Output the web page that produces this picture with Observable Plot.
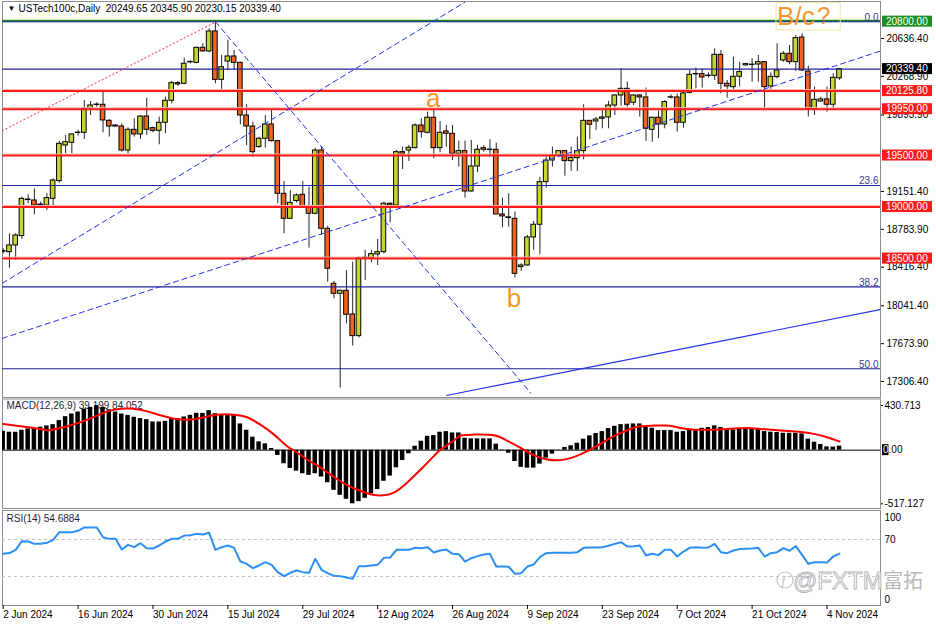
<!DOCTYPE html>
<html><head><meta charset="utf-8">
<script src="https://cdn.jsdelivr.net/npm/d3@7"></script>
<script src="https://cdn.jsdelivr.net/npm/@observablehq/plot@0.6"></script>
<style>
body{margin:0;background:#fff;}
#wrap{position:relative;width:936px;height:624px;overflow:hidden;background:#fff;font-family:"Liberation Sans",Arial,sans-serif;}
#wrap svg{position:absolute;left:0;}
#wm{position:absolute;left:776px;top:564px;font-family:"Liberation Sans",Arial,sans-serif;font-size:24px;white-space:nowrap;}
</style></head><body><div id="wrap"></div>
<script>
// ---------- DATA ----------
const title = "USTech100c,Daily\u00a0\u00a020249.65 20345.90 20230.15 20339.40";
const open = [18566,18562,18627,18718,19068,19064,19020,19015,19080,19252,
19598,19624,19719,19721,19960,19991,19993,19837,19792,19782,
19549,19750,19705,19879,19766,19740,19818,20032,20203,20197,
20405,20400,20546,20511,20705,20235,20413,20462,20400,19889,
19782,19582,19663,19802,19640,19129,18886,19058,19119,19006,
18935,19549,18789,18255,18158,18187,17957,17747,18506,18504,
18540,18562,19032,19015,19533,19549,19572,19792,19721,19867,
19572,19734,19711,19517,19543,19151,19394,19572,19555,19556,
18928,18900,18886,18417,18433,18705,18828,19242,19452,19501,
19543,19446,19475,19543,19837,19831,19857,19870,19986,20083,
20148,20012,20083,20064,19750,19867,19802,20062,20064,19818,
20109,20288,20290,20272,20274,20478,20197,20164,20265,20375,
20380,20384,20407,20171,20261,20423,20488,20407,20646,20316,
19947,20025,20045,19993,20249.65];
const high = [18595,18740,18740,19096,19119,19177,19048,19129,19274,19637,
19695,19711,19744,20035,20025,20012,20132,19850,19798,19808,
19769,19857,19889,20057,19776,19873,20067,20219,20219,20446,
20420,20553,20585,20731,20795,20472,20617,20520,20407,19993,
19824,19679,19889,19938,19646,19248,19161,19129,19248,19193,
19572,19582,18815,18278,18190,18384,18465,18514,18579,18579,
18685,19048,19041,19549,19582,19598,19808,19857,19922,19947,
19831,19792,19792,19640,19640,19646,19598,19598,19653,19621,
19087,19129,18951,18449,18724,18860,19290,19485,19582,19549,
19549,19582,19679,19993,19841,19870,19947,20025,20090,20342,
20213,20090,20093,20155,19870,19931,20032,20090,20096,20116,
20326,20349,20342,20303,20536,20520,20229,20455,20407,20394,
20439,20472,20410,20303,20585,20510,20569,20666,20682,20368,
20164,20067,20164,20294,20345.9];
const low = [18546,18407,18482,18685,19032,18925,18999,18967,18990,19232,
19517,19517,19689,19656,19889,19970,19721,19679,19776,19533,
19517,19679,19656,19695,19721,19604,19711,20002,20174,20187,
20391,20391,20504,20498,20197,20142,20326,20326,19799,19598,
19485,19572,19572,19630,19032,18740,18880,19041,18990,18601,
18925,18724,18271,18109,17242,17867,17650,17728,18287,18459,
18433,18546,18847,19009,19365,19443,19566,19669,19711,19469,
19527,19582,19452,19388,19087,19145,19333,19533,19485,18925,
18799,18805,18310,18375,18427,18579,18537,19184,19388,19494,
19300,19346,19346,19459,19656,19744,19760,19760,19889,19980,
19970,19986,19873,19637,19630,19663,19760,20051,19727,19766,
20100,20148,20155,20252,20229,20100,20057,20142,20168,20368,
20213,20213,19954,20142,20245,20407,20381,20316,20316,19873,
19889,20019,19922,19954,20230.15];
const close = [18572,18627,18724,19080,19073,19015,19024,19087,19258,19614,
19630,19705,19723,19954,19986,19995,19841,19782,19782,19549,
19750,19705,19879,19750,19740,19818,20032,20203,20190,20391,
20409,20546,20511,20705,20235,20358,20462,20400,19889,19782,
19533,19663,19802,19640,19129,18886,19041,19113,19006,18935,
19549,18789,18401,18158,18187,17954,17747,18504,18509,18543,
18562,19032,19015,19533,19517,19575,19792,19727,19867,19572,
19721,19711,19517,19543,19151,19394,19556,19556,19558,18928,
18909,18894,18352,18433,18705,18828,19242,19452,19501,19543,
19446,19475,19543,19837,19799,19850,19870,19986,20083,20148,
19993,20083,20064,19760,19867,19802,20019,20066,19818,20103,
20284,20292,20258,20276,20478,20197,20171,20265,20310,20388,
20383,20407,20164,20265,20326,20488,20407,20640,20326,19947,
20041,20045,19993,20255,20339.4];

const macdHist = [182,173,173,192,205,205,221,234,246,285,
323,349,368,397,413,430,413,390,368,349,
336,317,304,294,272,272,278,304,304,320,
336,355,355,381,352,342,342,333,253,192,
125,80,61,16,-51,-131,-176,-202,-227,-243,
-227,-259,-314,-387,-435,-474,-517,-496,-464,-420,
-380,-300,-250,-170,-100,-35,38,86,134,141,
173,179,166,166,115,109,109,109,109,58,
-5,-29,-109,-166,-173,-173,-134,-77,-38,3,
26,42,67,106,138,160,179,208,230,246,
250,253,253,227,211,189,189,189,173,179,
195,195,211,218,234,218,202,195,202,205,
202,202,179,173,170,163,163,163,157,106,
77,55,32,30,39.199];
const signalIdx = [0,4.9,6.5,7.6,10.3,13.5,16.7,18.8,20.9,23.1,25.2,27.4,29.5,31.6,34.3,37,39.1,41.2,43.4,45.5,46.6,48.7,50.9,53,55.1,57.3,59.4,61,62.6,64.7,66.9,69,70.1,72.2,
73.3,75.4,78.6,80.7,82.9,85,87.2,89.3,91.4,93.6,95.7,97.8,100,102.1,104.3,106.4,108.5,110.7,113.9,117.1,119.2,121.3,124.6,127.8,129.9,132,134];
const signalVal = [253,214,198,195,230,294,374,400,400,374,336,304,294,310,342,342,317,246,150,38,-3,-90,-170,-259,-336,-394,-432,-435,-410,-314,-186,-58,6,93,
141,150,144,93,22,-48,-90,-96,-67,-10,61,134,192,230,237,237,214,198,198,208,214,205,189,176,157,125,84.052];
const rsi = [54.5,55.3,58.8,68.2,67.8,65.3,65.3,66.4,69.6,77.9,
77.9,77.9,79.4,83,83,83,72.5,70.7,70.7,59.2,
64.2,61.7,66,60.6,60.3,63.5,67.8,70.7,70.7,74.3,
74.7,76.1,75.4,77.2,58.8,61.7,63.5,61,46.2,43.7,
39,41.9,45.5,42.6,34.7,30.4,34,36.5,34.7,34,
49.1,37.2,33.6,30.7,30.4,28.9,27.5,41.2,41.2,41.9,
42.6,50.2,50.5,58.8,58.8,58.8,61,60.6,61.7,55.9,
58.1,59.2,54.5,54.1,46.2,49.8,52,53.8,54.5,40.8,
40.8,40.5,32.9,33.6,40.8,43,50.9,55.2,55.6,55.6,
55.6,55.6,56.3,61,61.4,61.4,61.7,63.2,65.3,67.1,
62.4,62.8,63.5,52.7,54.5,53.1,58.8,58.8,51.6,57,
61,61.7,61,61.4,65.3,56.3,55.2,58.1,59.6,59.9,
60.3,61,51.6,55.2,56.3,60.6,57.8,62.8,53.4,43.7,
45.5,45.5,45.1,51.6,54.6884];

const dateTickIdx = [0,12,24,36,48,60,72,84,96,108,120,132];
const dateTickLabels = ["2 Jun 2024","16 Jun 2024","30 Jun 2024","15 Jul 2024","29 Jul 2024","12 Aug 2024","26 Aug 2024","9 Sep 2024","23 Sep 2024","7 Oct 2024","21 Oct 2024","4 Nov 2024"];
const priceTicks = [20636.4,20268.9,19893.9,19151.4,18783.9,18416.4,18041.4,17673.9,17306.4];
const redLevels = [20125.8,19950,19500,19000,18500];
const greenLevel = [20800];
const bidLevel = [20339.4];
const fibHigh = 20800, fibLow = 14060;
const fibRatios = [0, 0.236, 0.382, 0.5];
const fibNames = ["0.0","23.6","38.2","50.0"];
const dashedTrend = [
  {i1:34, p1:20800, i2:84.6, p2:17190},
  {i1:-0.2, p1:18258, i2:74, p2:20990},
  {i1:-0.2, p1:17724, i2:140.6, p2:20515}
];
const solidTrend = [{i1:71, p1:17170, i2:140.6, p2:18006}];
const dottedTrend = [{i1:-0.2, p1:19740, i2:34, p2:20795}];
const waveLabels = [{t:"a", i:68.9, p:20057},{t:"b", i:81.85, p:18115}];
const bcLabel = [{t:"B/c", i:124.0, p:20853}];
const bcBox = [{i1:123.9, i2:134.2, p1:20714, p2:20979}];
const macdTicks = [430.713, -517.127];
const rsiLabels = [100, 70, 0];

// ---------- CHART ----------
const idx = d3.range(open.length);
const xDomain = [-0.112, 140.57];
const style = {fontFamily:'"Liberation Sans", Arial, sans-serif', fontSize:"10px", background:"transparent", overflow:"visible", color:"#000"};
const fibLevels = fibRatios.map((r,j)=>({v: fibHigh - r*(fibHigh-fibLow), n: fibNames[j]}));
const bull = idx.filter(i=>close[i]>=open[i]);
const bear = idx.filter(i=>close[i]<open[i]);
const candleW = 0.37;

const main = Plot.plot({
  width:936, height:398, marginLeft:2, marginRight:56, marginTop:1, marginBottom:1,
  style,
  x:{domain:xDomain, axis:null},
  y:{domain:[17306.4,20636.4], range:[381,38]},
  marks:[
    Plot.frame({stroke:"#8c8c8c"}),
    Plot.text(["\u25BC"], {text:d=>d, frameAnchor:"top-left", dx:5, dy:4, lineAnchor:"top", textAnchor:"start", fontSize:8}),
    Plot.text([title], {text:d=>d, frameAnchor:"top-left", dx:16, dy:3, lineAnchor:"top", textAnchor:"start"}),
    // candles
    Plot.ruleX(idx, {x:i=>i, y1:i=>low[i], y2:i=>high[i], stroke:"#262626", strokeWidth:1, clip:true}),
    Plot.rect(bull, {x1:i=>i-candleW, x2:i=>i+candleW, y1:i=>open[i], y2:i=>close[i], fill:"#c8d52f", stroke:"#000", strokeWidth:1, clip:true}),
    Plot.rect(bear, {x1:i=>i-candleW, x2:i=>i+candleW, y1:i=>close[i], y2:i=>open[i], fill:"#f0641f", stroke:"#000", strokeWidth:1, clip:true}),
    // horizontal levels
    Plot.ruleY(fibLevels, {y:d=>d.v, stroke:"#22229a", strokeWidth:1.1}),
    Plot.ruleY(bidLevel, {stroke:"#22229a", strokeWidth:1.1}),
    Plot.ruleY(greenLevel, {stroke:"#1f8f1f", strokeWidth:1.6, dy:-1.2}),
    Plot.ruleY(redLevels, {stroke:"#ffb4b4", strokeWidth:1, dy:-1.5}),
    Plot.ruleY(redLevels, {stroke:"#ff1a1a", strokeWidth:2}),
    // trend lines
    Plot.link(dottedTrend, {x1:"i1", y1:"p1", x2:"i2", y2:"p2", stroke:"#ff2a2a", strokeDasharray:"2,2", strokeWidth:1, clip:true}),
    Plot.link(dashedTrend, {x1:"i1", y1:"p1", x2:"i2", y2:"p2", stroke:"#2233ee", strokeDasharray:"6,3", strokeWidth:1, clip:true}),
    Plot.link(solidTrend, {x1:"i1", y1:"p1", x2:"i2", y2:"p2", stroke:"#2233ee", strokeWidth:1.1, clip:true}),
    // fib labels
    Plot.text(fibLevels, {y:d=>d.v, text:d=>d.n, frameAnchor:"right", textAnchor:"end", lineAnchor:"bottom", dx:-2, dy:-1, fill:"#3b3b96"}),
    // wave annotations
    Plot.text(waveLabels, {x:"i", y:"p", text:"t", fontSize:26, fill:"#f7962a", textAnchor:"middle", lineAnchor:"middle"}),
    Plot.rect(bcBox, {x1:"i1", x2:"i2", y1:"p1", y2:"p2", fill:"none", stroke:"#efe9a6", strokeWidth:1, clip:true}),
    Plot.text(bcLabel, {x:"i", y:"p", text:d=>d.t, fontSize:26, fill:"#f7962a", textAnchor:"start", lineAnchor:"middle"}),
    Plot.text(bcLabel, {x:"i", y:"p", text:()=>"?", fontSize:24, fill:"#f7962a", textAnchor:"start", lineAnchor:"middle", dx:40}),
    Plot.axisY(priceTicks, {anchor:"right", tickFormat:d=>d.toFixed(2), tickSize:3, tickPadding:3, label:null})
  ]
});

// colored price boxes via Plot's y scale
{
  const ys = main.scale("y");
  const s = d3.select(main);
  const boxes = [
    ...greenLevel.map(v=>({v, bg:"#1f8f1f"})),
    ...bidLevel.map(v=>({v, bg:"#000"})),
    ...redLevels.map(v=>({v, bg:"#ff1a1a"}))
  ];
  for (const b of boxes) {
    const y = ys.apply(b.v);
    s.append("rect").attr("x",882).attr("y",y-5.5).attr("width",50).attr("height",11).attr("fill",b.bg);
    s.append("text").attr("x",886).attr("y",y).attr("dy","0.35em").attr("text-anchor","start")
      .attr("fill","#fff").attr("font-size",10).text(b.v.toFixed(2));
  }
}
main.style.top = "0px";

const macd = Plot.plot({
  width:936, height:111, marginLeft:2, marginRight:56, marginTop:0.5, marginBottom:1,
  style,
  x:{domain:xDomain, axis:null},
  y:{domain:[-517.127,430.713], range:[105.3,7]},
  marks:[
    Plot.frame({stroke:"#8c8c8c"}),
    Plot.text(["MACD(12,26,9) 39.199 84.052"], {text:d=>d, frameAnchor:"top-left", dx:4, dy:2.5, lineAnchor:"top", textAnchor:"start", fill:"#1e1e3c"}),
    Plot.ruleY([0], {stroke:"#000", strokeWidth:1}),
    Plot.rect(idx, {x1:i=>i-0.36, x2:i=>i+0.36, y1:()=>0, y2:i=>macdHist[i], fill:"#000", clip:true}),
    Plot.line(signalIdx.map((d,j)=>({i:d, v:signalVal[j]})), {x:"i", y:"v", stroke:"#ff0000", strokeWidth:2, curve:"natural", clip:true}),
    Plot.axisY(macdTicks, {anchor:"right", tickFormat:d=>d.toFixed(3), tickSize:2, tickPadding:2, label:null})
  ]
});
{
  const y0 = macd.scale("y").apply(0);
  const s = d3.select(macd);
  s.append("rect").attr("x",882).attr("y",y0-5.5).attr("width",6.5).attr("height",11).attr("fill","#000");
  const t = s.append("text").attr("x",883).attr("y",y0).attr("dy","0.35em").attr("text-anchor","start").attr("font-size",10);
  t.append("tspan").attr("fill","#fff").text("0");
  t.append("tspan").attr("fill","#000").text(".00");
}
macd.style.top = "398px";

const rsiChart = Plot.plot({
  width:936, height:115, marginLeft:2, marginRight:56, marginTop:1, marginBottom:19,
  style,
  x:{domain:xDomain},
  y:{domain:[0,100], range:[94.75,2.25], axis:null},
  marks:[
    Plot.frame({stroke:"#8c8c8c"}),
    Plot.ruleY([70,30], {stroke:"#c4c4c4", strokeDasharray:"3,3"}),
    Plot.line(rsi, {x:(d,i)=>i, y:d=>d, stroke:"#2b8ff5", strokeWidth:2}),
    Plot.text(["RSI(14) 54.6884"], {text:d=>d, frameAnchor:"top-left", dx:4, dy:4, lineAnchor:"top", textAnchor:"start", fill:"#1e1e3c"}),
    Plot.text([rsiLabels[0]], {y:d=>d, text:d=>String(d), frameAnchor:"right", dx:4, dy:6.5, textAnchor:"start"}),
    Plot.text([rsiLabels[1]], {y:d=>d, text:d=>String(d), frameAnchor:"right", dx:4, dy:0, textAnchor:"start"}),
    Plot.text([rsiLabels[2]], {y:d=>d, text:d=>String(d), frameAnchor:"right", dx:4, dy:-4.5, textAnchor:"start"}),
    Plot.axisX(dateTickIdx, {anchor:"bottom", tickFormat:d=>dateTickLabels[dateTickIdx.indexOf(d)], textAnchor:"start", tickSize:4, tickPadding:1, label:null})
  ]
});
rsiChart.style.top = "509px";

const wrap = document.getElementById("wrap");
wrap.append(main, macd, rsiChart);

// watermark
const wm = document.createElement("div");
wm.id = "wm";
wm.innerHTML = '<svg width="160" height="34" style="position:static;overflow:visible">' +
  '<circle cx="9" cy="16" r="8" fill="none" stroke="#c4c4c4" stroke-width="1.2"/>' +
  '<text x="5.5" y="21" font-size="13" font-style="italic" fill="#bdbdbd" font-family="Liberation Serif, serif">f</text>' +
  '<text x="17" y="25" font-size="24" fill="#fff" stroke="#b4b4b4" stroke-width="0.9" font-family="Liberation Sans, Arial, sans-serif">@FXTM</text>' +
  '<text x="107" y="24" font-size="20" fill="#b8b8b8" font-family="Noto Sans CJK SC, sans-serif">富拓</text></svg>';
wrap.append(wm);
</script>
</body></html>
